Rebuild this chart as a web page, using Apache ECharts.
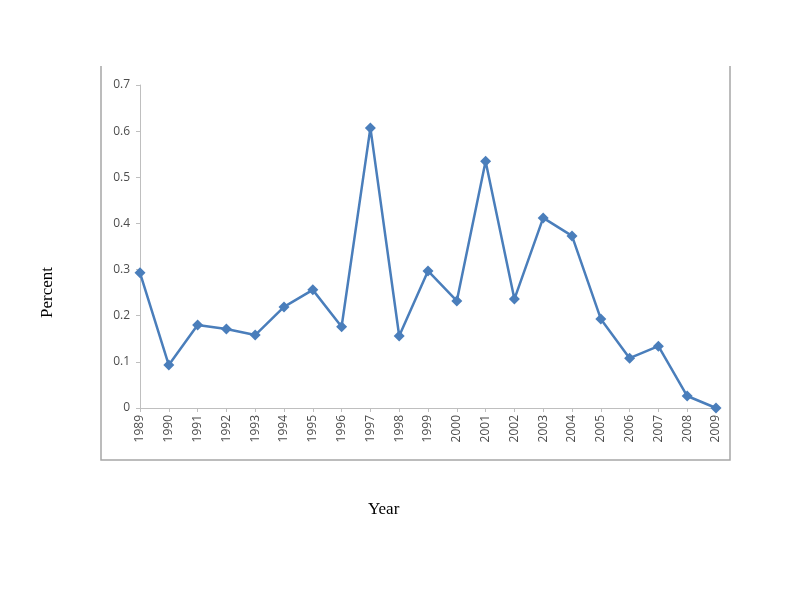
<!DOCTYPE html>
<html>
<head>
<meta charset="utf-8">
<script src="https://cdn.jsdelivr.net/npm/echarts@6/dist/echarts.min.js"></script>
<style>
  html, body { margin: 0; padding: 0; background: #fff; }
  #chart { width: 800px; height: 600px; }
</style>
</head>
<body>
<div id="chart"></div>
<script>
// 数据
var years = ["1989", "1990", "1991", "1992", "1993", "1994", "1995", "1996", "1997", "1998", "1999",
  "2000", "2001", "2002", "2003", "2004", "2005", "2006", "2007", "2008", "2009"];
var percent = [0.293, 0.093, 0.18, 0.171, 0.158, 0.219, 0.256, 0.176, 0.607, 0.156, 0.297,
  0.232, 0.535, 0.236, 0.412, 0.373, 0.193, 0.108, 0.134, 0.026, 0];
var yTicks = [0, 0.1, 0.2, 0.3, 0.4, 0.5, 0.6, 0.7];

var myChart = echarts.init(document.getElementById("chart"));
myChart.setOption({
  animation: false,
  // 外框（左、下、右）
  graphic: [
    {
      type: "polyline",
      shape: { points: [[101, 66], [101, 460], [730, 460], [730, 66]] },
      style: { stroke: "#a6a6a6", lineWidth: 1.5, fill: null }
    },
    {
      type: "text",
      left: 368, top: 501,
      style: { text: "Year", font: "17px 'Liberation Serif', serif", fill: "#000" }
    },
    {
      type: "text",
      x: 39, y: 318, rotation: Math.PI / 2,
      style: { text: "Percent", font: "17px 'Liberation Serif', serif", fill: "#000" }
    }
  ],
  grid: {
    left: 140,
    right: 84,
    top: 85,
    bottom: 192
  },
  xAxis: {
    type: "category",
    data: years,
    boundaryGap: false,
    axisLine: { lineStyle: { color: "#bfbfbf", width: 1 } },
    axisTick: { show: true, alignWithLabel: true, length: 4, lineStyle: { color: "#bfbfbf" } },
    axisLabel: {
      rotate: 90,
      interval: 0,
      color: "#4d4d4d",
      fontSize: 12,
      fontFamily: "'Open Sans', sans-serif",
      margin: 7
    },
    splitLine: { show: false }
  },
  yAxis: {
    type: "value",
    min: 0,
    max: 0.7,
    interval: 0.1,
    axisLine: { show: true, lineStyle: { color: "#bfbfbf", width: 1 } },
    axisTick: { show: true, length: 4, lineStyle: { color: "#bfbfbf" } },
    axisLabel: {
      color: "#4d4d4d",
      fontSize: 12,
      fontFamily: "'Open Sans', sans-serif",
      margin: 10,
      formatter: function (v) {
        return yTicks.indexOf(Math.round(v * 10) / 10) >= 0 ? String(Math.round(v * 10) / 10) : "";
      }
    },
    splitLine: { show: false }
  },
  series: [
    {
      type: "line",
      data: percent,
      symbol: "diamond",
      symbolSize: 11,
      lineStyle: { color: "#4a7ebb", width: 2.5 },
      itemStyle: { color: "#4a7ebb" }
    }
  ]
});
</script>
</body>
</html>
